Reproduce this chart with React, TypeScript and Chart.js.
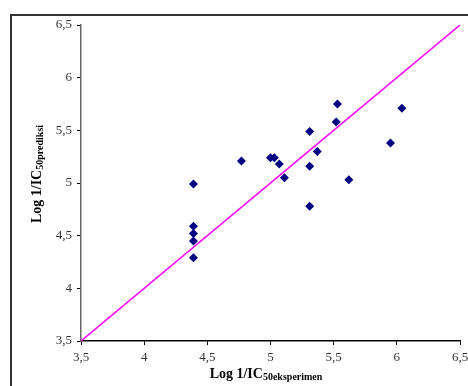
import React, { useEffect, useRef } from "react";
import { Chart, registerables } from "chart.js";

Chart.register(...registerables);

const experimental: number[] = [4.39, 4.39, 4.39, 4.39, 4.39, 4.77, 5.0, 5.03, 5.07, 5.11, 5.31, 5.37, 5.31, 5.31, 5.53, 5.52, 5.62, 5.95, 6.04];
const predicted: number[] = [4.99, 4.59, 4.52, 4.45, 4.29, 5.21, 5.24, 5.24, 5.18, 5.05, 5.49, 5.30, 5.16, 4.78, 5.75, 5.58, 5.03, 5.38, 5.71];
const lineX: number[] = [3.5, 6.5];
const lineY: number[] = [3.5, 6.5];
const axisMin = 3.5;
const axisMax = 6.5;
const axisStep = 0.5;
const xTitleMain = "Log 1/IC";
const xTitleSub = "50eksperimen";
const yTitleMain = "Log 1/IC";
const yTitleSub = "50prediksi";

const SERIF = "'Liberation Serif', 'Times New Roman', serif";

const decorPlugin = {
  id: "decor",
  afterDraw(chart: any) {
    const ctx = chart.ctx as CanvasRenderingContext2D;
    ctx.save();
    ctx.strokeStyle = "#333333";
    ctx.lineWidth = 2;
    ctx.beginPath();
    ctx.moveTo(11, 400);
    ctx.lineTo(11, 15);
    ctx.lineTo(480, 15);
    ctx.stroke();

    ctx.fillStyle = "#000000";
    ctx.textBaseline = "alphabetic";
    ctx.textAlign = "left";
    ctx.font = `bold 14px ${SERIF}`;
    const mainW = ctx.measureText(xTitleMain).width;
    ctx.font = `bold 10px ${SERIF}`;
    const subW = ctx.measureText(xTitleSub).width;
    const xStart = 266 - (mainW + subW) / 2;
    ctx.font = `bold 14px ${SERIF}`;
    ctx.fillText(xTitleMain, xStart, 378);
    ctx.font = `bold 10px ${SERIF}`;
    ctx.fillText(xTitleSub, xStart + mainW, 380);

    ctx.font = `bold 14px ${SERIF}`;
    const yMainW = ctx.measureText(yTitleMain).width;
    ctx.font = `bold 10px ${SERIF}`;
    const ySubW = ctx.measureText(yTitleSub).width;
    const yCenter = 174;
    ctx.translate(41, yCenter + (yMainW + ySubW) / 2);
    ctx.rotate(-Math.PI / 2);
    ctx.font = `bold 14px ${SERIF}`;
    ctx.fillText(yTitleMain, 0, 0);
    ctx.font = `bold 10px ${SERIF}`;
    ctx.fillText(yTitleSub, yMainW, 2);
    ctx.restore();
  },
};

const fmt = (v: any) => String(Number(v)).replace(".", ",");

export default function App() {
  const ref = useRef<HTMLCanvasElement | null>(null);
  useEffect(() => {
    document.body.style.margin = "0";
    const canvas = ref.current;
    if (!canvas) return;
    const points = experimental.map((x, i) => ({ x, y: predicted[i] }));
    const line = lineX.map((x, i) => ({ x, y: lineY[i] }));
    const chart = new Chart(canvas, {
      type: "scatter",
      data: {
        datasets: [
          {
            type: "line",
            data: line,
            borderColor: "#FF00FF",
            borderWidth: 1.5,
            pointRadius: 0,
            fill: false,
            order: 2,
          } as any,
          {
            data: points,
            pointStyle: "rectRot",
            pointRadius: 4.5,
            backgroundColor: "#000080",
            borderColor: "#000080",
            borderWidth: 0,
            order: 1,
          },
        ],
      },
      options: {
        responsive: false,
        animation: false,
        layout: { padding: { left: 0, top: 25, right: 0, bottom: 0 } },
        plugins: { legend: { display: false }, tooltip: { enabled: false }, title: { display: false } },
        scales: {
          x: {
            type: "linear",
            min: axisMin,
            max: axisMax,
            afterFit: (s: any) => { s.height = 45; s.paddingRight = 8; s.paddingLeft = 0; },
            border: { color: "#000000", width: 1.5 },
            grid: { drawOnChartArea: false, drawTicks: true, tickLength: 4, color: "#000000", tickWidth: 1 },
            ticks: { stepSize: axisStep, callback: (v: any) => fmt(v), color: "#333333", font: { family: SERIF, size: 13 }, padding: 5, maxRotation: 0 },
          },
          y: {
            type: "linear",
            min: axisMin,
            max: axisMax,
            afterFit: (s: any) => { s.width = 81; s.paddingTop = 0; s.paddingBottom = 0; },
            border: { color: "#666666", width: 1.5 },
            grid: { drawOnChartArea: false, drawTicks: true, tickLength: 4, color: "#000000", tickWidth: 1 },
            ticks: { stepSize: axisStep, callback: (v: any) => fmt(v), color: "#333333", font: { family: SERIF, size: 13 }, padding: 5 },
          },
        },
      },
      plugins: [decorPlugin],
    });
    return () => chart.destroy();
  }, []);
  return (
    <div style={{ position: "fixed", left: 0, top: 0, width: 468, height: 386, background: "#ffffff" }}>
      <canvas ref={ref} width={468} height={386} style={{ display: "block" }} />
    </div>
  );
}
